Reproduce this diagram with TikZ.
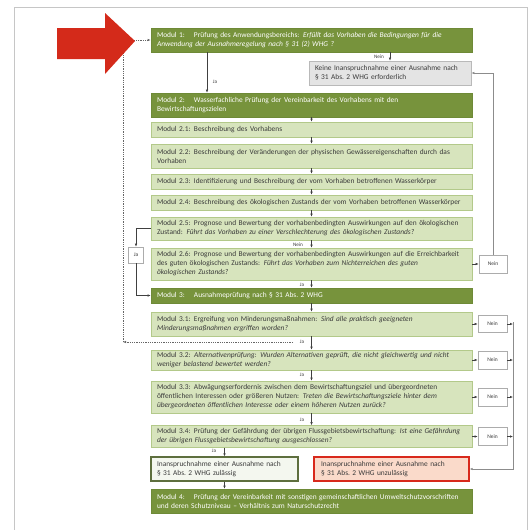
\documentclass[tikz,border=0pt]{standalone}
\usepackage{fontspec}
\setmainfont{Carlito}
\usetikzlibrary{arrows.meta}
\definecolor{dg}{HTML}{77933C}
\definecolor{dgb}{HTML}{6E8A37}
\definecolor{lg}{HTML}{D7E4BD}
\definecolor{lgb}{HTML}{B3C98A}
\definecolor{txt}{HTML}{3A3A3A}
\definecolor{redarrow}{HTML}{D42A1A}
\definecolor{gfill}{HTML}{E4E4E4}
\definecolor{gline}{HTML}{8C8C8C}
\definecolor{zfill}{HTML}{F4F7EF}
\definecolor{zline}{HTML}{5E6F3E}
\definecolor{ufill}{HTML}{FADACA}
\definecolor{uline}{HTML}{D8291C}
\newcommand{\fsz}{\fontsize{7.4}{9}\selectfont\hyphenpenalty=10000\exhyphenpenalty=10000\parindent=0pt}
\newcommand{\ml}[2]{\noindent\hangindent=37pt\hangafter=1\makebox[37pt][l]{#1}#2}
\tikzset{
  base/.style={draw, line width=0.6pt, minimum width=321pt, text width=309pt,
    inner xsep=6pt, inner ysep=0pt, align=left, font=\fsz},
  dark/.style={base, fill=dg, draw=dgb, text=white},
  light/.style={base, fill=lg, draw=lgb, text=txt},
  gbox/.style={draw=gray!55, fill=gfill, line width=0.6pt, minimum width=162pt,
    text width=150pt, inner xsep=6pt, inner ysep=0pt, align=left, font=\fsz, text=txt},
  zbox/.style={draw=zline, fill=zfill, line width=1.2pt, minimum width=147pt,
    text width=135pt, inner xsep=6pt, inner ysep=0pt, align=left, font=\fsz, text=txt},
  ubox/.style={draw=uline, fill=ufill, line width=1.2pt, minimum width=155pt,
    text width=141pt, inner xsep=7pt, inner ysep=0pt, align=left, font=\fsz, text=txt},
  sm/.style={draw=gray!65, fill=white, line width=0.6pt, inner sep=0pt,
    font=\fontsize{5.5}{6}\selectfont, text=txt, align=center},
  lab/.style={font=\fontsize{5.2}{6}\selectfont, text=txt, inner sep=0.5pt},
  arr/.style={-{Latex[length=3pt,width=2.4pt]}, line width=0.5pt, draw=black!75},
  garr/.style={-{Latex[length=3pt,width=2.4pt]}, line width=0.6pt, draw=gline},
  dotarr/.style={-{Latex[length=3pt,width=2.4pt]}, line width=0.6pt, draw=black!60,
    dash pattern=on 0.8pt off 1pt}
}
\begin{document}
\begin{tikzpicture}[x=1pt,y=-1pt]
\useasboundingbox (0,0) rectangle (530,530);
\fill[white] (0,0) rectangle (530,530);
% page frame
\draw[gray!45, line width=0.8pt] (14,530) -- (14,7) -- (527,7) -- (527,530);

% main boxes
\node[dark, minimum height=24pt] (m1) at (311.5,40)
  {\ml{Modul 1:}{Prüfung des Anwendungsbereichs: \textit{Erfüllt das Vorhaben die Bedingungen für die Anwendung der Ausnahmeregelung nach §~31 (2) WHG ?}}};
\node[gbox, minimum height=24pt] (g) at (390,73)
  {Keine Inanspruchnahme einer Ausnahme nach §~31 Abs.~2 WHG erforderlich};
\node[dark, minimum height=24pt] (m2) at (311.5,105)
  {\ml{Modul 2:}{Wasserfachliche Prüfung der Vereinbarkeit des Vorhabens mit den Bewirtschaftungszielen}};
\node[light, minimum height=15pt] (m21) at (311.5,129.5)
  {\ml{Modul 2.1:}{Beschreibung des Vorhabens}};
\node[light, minimum height=24pt] (m22) at (311.5,156)
  {\ml{Modul 2.2:}{Beschreibung der Veränderungen der physischen Gewässereigenschaften durch das Vorhaben}};
\node[light, minimum height=15pt] (m23) at (311.5,181.5)
  {\ml{Modul 2.3:}{Identifizierung und Beschreibung der vom Vorhaben betroffenen Wasserkörper}};
\node[light, minimum height=15pt] (m24) at (311.5,202.5)
  {\ml{Modul 2.4:}{Beschreibung des ökologischen Zustands der vom Vorhaben betroffenen Wasserkörper}};
\node[light, minimum height=23pt] (m25) at (311.5,228.5)
  {\ml{Modul 2.5:}{Prognose und Bewertung der vorhabenbedingten Auswirkungen auf den ökologischen Zustand: \textit{Führt das Vorhaben zu einer Verschlechterung des ökologischen Zustands?}}};
\node[light, minimum height=32pt] (m26) at (311.5,264)
  {\ml{Modul 2.6:}{Prognose und Bewertung der vorhabenbedingten Auswirkungen auf die Erreichbarkeit des guten ökologischen Zustands: \textit{Führt das Vorhaben zum Nichterreichen des guten\newline ökologischen Zustands?}}};
\node[dark, minimum height=15pt] (m3) at (311.5,295.5)
  {\ml{Modul 3:}{Ausnahmeprüfung nach §~31 Abs.~2 WHG}};
\node[light, minimum height=24pt] (m31) at (311.5,324)
  {\ml{Modul 3.1:}{Ergreifung von Minderungsmaßnahmen: \textit{Sind alle praktisch geeigneten Minderungsmaßnahmen ergriffen worden?}}};
\node[light, minimum height=20pt] (m32) at (311.5,360)
  {\ml{Modul 3.2:}{\textit{Alternativenprüfung: Wurden Alternativen geprüft, die nicht gleichwertig und nicht weniger belastend bewertet werden?}}};
\node[light, minimum height=32pt] (m33) at (311.5,397)
  {\ml{Modul 3.3:}{Abwägungserfordernis zwischen dem Bewirtschaftungsziel und übergeordneten öffentlichen Interessen oder größeren Nutzen: \textit{Treten die Bewirtschaftungsziele hinter dem übergeordneten öffentlichen Interesse oder einem höheren Nutzen zurück?}}};
\node[light, minimum height=22pt] (m34) at (311.5,436.5)
  {\ml{Modul 3.4:}{Prüfung der Gefährdung der übrigen Flussgebietsbewirtschaftung: \textit{Ist eine Gefährdung der übrigen Flussgebietsbewirtschaftung ausgeschlossen?}}};
\node[zbox, minimum height=24pt] (zul) at (224.5,469)
  {Inanspruchnahme einer Ausnahme nach\newline §~31 Abs.~2 WHG zulässig};
\node[ubox, minimum height=24pt] (uz) at (391.5,469)
  {Inanspruchnahme einer Ausnahme nach\newline §~31 Abs.~2 WHG unzulässig};
\node[dark, minimum height=24pt] (m4) at (311.5,501)
  {\ml{Modul 4:}{Prüfung der Vereinbarkeit mit sonstigen gemeinschaftlichen Umweltschutzvorschriften und deren Schutzniveau – Verhältnis zum Naturschutzrecht}};

% small decision boxes
\node[sm, minimum width=15pt, minimum height=16pt] (jab) at (136,255) {Ja};
\node[sm, minimum width=28pt, minimum height=18pt] (nb) at (493,264) {Nein};
\node[sm, minimum width=29pt, minimum height=17pt] (n31) at (492.5,324) {Nein};
\node[sm, minimum width=29pt, minimum height=18pt] (n32) at (492.5,360) {Nein};
\node[sm, minimum width=29pt, minimum height=18pt] (n33) at (492.5,397) {Nein};
\node[sm, minimum width=29pt, minimum height=18pt] (n34) at (492.5,436.5) {Nein};

% helper coordinates
\coordinate (ja1) at (207,0);
\coordinate (d0) at (293,342);
\coordinate (dl) at (123,342);
\coordinate (rv) at (513,322);

% vertical flow
\draw[arr] (m1.south -| g.north) -- (g.north);
\draw[arr] (m1.south -| ja1) -- (m2.north -| ja1);
\draw[arr] (m2.south) -- (m21.north);
\draw[arr] (m21.south) -- (m22.north);
\draw[arr] (m22.south) -- (m23.north);
\draw[arr] (m23.south) -- (m24.north);
\draw[arr] (m24.south) -- (m25.north);
\draw[arr] (m25.south) -- (m26.north);
\draw[arr] (m26.south) -- (m3.north);
\draw[arr] (m3.south) -- (m31.north);
\draw[arr] (m31.south) -- (m32.north);
\draw[arr] (m32.south) -- (m33.north);
\draw[arr] (m33.south) -- (m34.north);
\draw[arr] (m34.south -| zul.north) -- (zul.north);
\draw[arr] (zul.south) -- (zul.south |- m4.north);

% left branch
\draw[arr] (m25.west) -| (jab.north);
\draw[arr] (jab.south) |- (m3.west);

% right branches
\draw[arr] (m26.east) -- (nb.west);
\draw[garr] (nb.north) |- (g.east);
\foreach \m/\n in {m31/n31, m32/n32, m33/n33, m34/n34} {
  \draw[arr] (\m.east |- \n.west) -- (\n.west);
  \draw[arr] (\n.east) -- (\n.east -| rv);
}
\draw[garr] (rv) |- (uz.east);

% dotted loop back to Modul 1
\draw[dotarr] (d0) -- (dl);
\draw[dotarr] (dl) |- (m1.west);

% labels
\node[lab] at (379,57) {Nein};
\node[lab] at (215,82) {Ja};
\node[lab] at (298,244.5) {Nein};
\node[lab] at (302,284.5) {Ja};
\node[lab] at (302,342) {Ja};
\node[lab] at (302,374.5) {Ja};
\node[lab] at (302,419.5) {Ja};
\node[lab] at (214,451) {Ja};

% red arrow
\fill[redarrow] (57,28) -- (105,28) -- (105,13) -- (135,41) -- (105,74) -- (105,59) -- (57,59) -- cycle;
\end{tikzpicture}
\end{document}
